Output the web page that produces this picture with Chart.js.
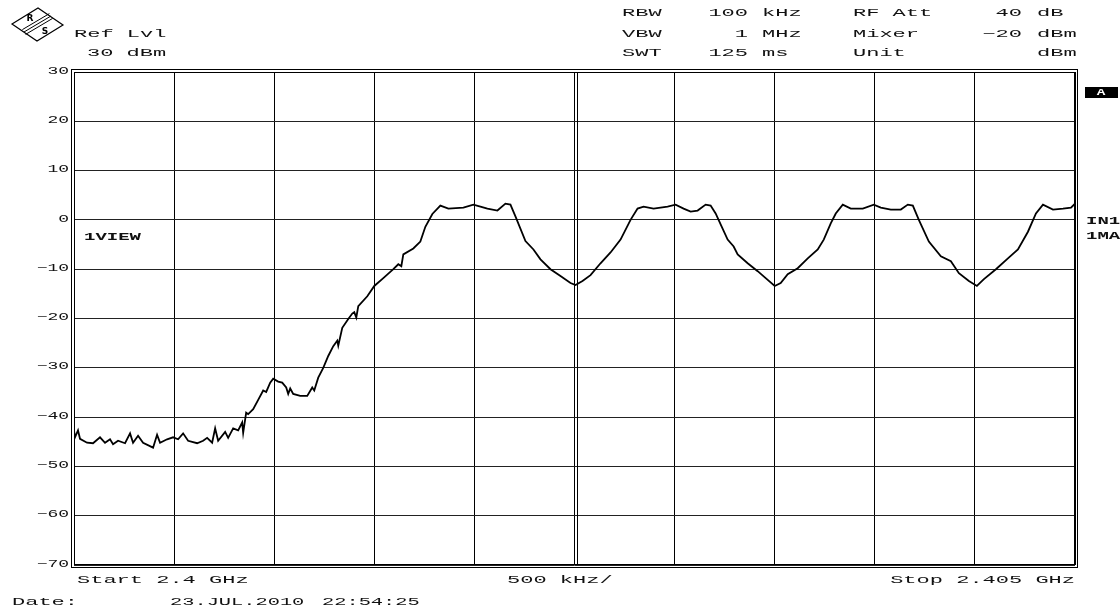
<!DOCTYPE html>
<html>
<head>
<meta charset="utf-8">
<script src="https://cdn.jsdelivr.net/npm/chart.js@4"></script>
<style>
  html, body { margin: 0; padding: 0; background: #fff; }
  #wrap { width: 1120px; height: 614px; position: relative; }
</style>
</head>
<body>
<div id="wrap"><canvas id="spectrum"></canvas></div>
<script>
// Trace: frequency offset from 2.4 GHz (kHz) and level (dBm)
const freqKHz = [
  0, 5, 20, 30, 65, 95, 130, 155, 180, 195, 220, 255, 280, 295, 320, 345, 395, 415, 430, 465,
  495, 520, 545, 570, 615, 645, 665, 690, 705, 720, 755, 770, 795, 820, 840, 845, 860, 870, 895, 920,
  945, 960, 980, 995, 1020, 1040, 1060, 1070, 1080, 1095, 1130, 1165, 1190, 1200, 1220, 1245, 1270, 1295, 1315, 1320,
  1340, 1370, 1390, 1400, 1410, 1420, 1465, 1500, 1545, 1595, 1620, 1635, 1645, 1695, 1730, 1755, 1790, 1830, 1870, 1945,
  1995, 2030, 2065, 2115, 2155, 2180, 2205, 2255, 2295, 2330, 2380, 2430, 2480, 2505, 2540, 2580, 2630, 2680, 2730, 2780,
  2815, 2845, 2895, 2965, 3005, 3045, 3080, 3115, 3155, 3180, 3205, 3230, 3265, 3295, 3315, 3365, 3415, 3455, 3500, 3530,
  3565, 3615, 3665, 3715, 3745, 3780, 3805, 3840, 3880, 3940, 3995, 4030, 4080, 4130, 4165, 4190, 4220, 4270, 4330, 4380,
  4420, 4470, 4510, 4545, 4605, 4665, 4715, 4765, 4805, 4840, 4890, 4940, 4980, 5000
];
const levelDbm = [
  -42.7, -44.1, -42.7, -44.4, -45.2, -45.3, -44.1, -45.2, -44.5, -45.5, -44.8, -45.3, -43.3, -45.2, -43.8, -45.2, -46.2, -43.6, -45.2, -44.5,
  -44.1, -44.5, -43.3, -44.8, -45.3, -44.8, -44.2, -45.2, -42.3, -44.8, -43.0, -44.2, -42.3, -42.7, -41.1, -43.2, -39.1, -39.4, -38.4, -36.5,
  -34.6, -34.9, -33.0, -32.2, -32.8, -33.0, -34.0, -35.3, -34.2, -35.3, -35.7, -35.7, -34.0, -34.6, -32.0, -30.0, -27.6, -25.6, -24.5, -25.5,
  -21.9, -20.1, -19.0, -18.7, -19.8, -17.5, -15.5, -13.4, -11.8, -10.0, -9.0, -9.4, -7.0, -5.8, -4.4, -1.4, 1.2, 2.9, 2.3, 2.5,
  3.1, 2.7, 2.3, 1.9, 3.3, 3.1, 0.7, -4.3, -6.0, -8.0, -10.0, -11.4, -12.8, -13.2, -12.4, -11.2, -8.8, -6.6, -4.0, 0.0,
  2.3, 2.7, 2.3, 2.7, 3.1, 2.3, 1.7, 1.9, 3.1, 2.9, 1.3, -0.9, -4.0, -5.4, -7.0, -8.8, -10.4, -11.8, -13.4, -12.8,
  -11.0, -9.8, -7.8, -6.0, -4.0, -0.7, 1.3, 3.1, 2.3, 2.3, 3.1, 2.5, 2.1, 2.1, 3.1, 2.9, 0.0, -4.4, -7.4, -8.4,
  -10.8, -12.4, -13.4, -12.0, -10.0, -7.8, -6.0, -2.4, 1.3, 3.1, 2.1, 2.3, 2.5, 3.3
];

const spanKHz = [0, 5000];
const levelRange = [-70, 30];
const headerRows = [
  ["RBW", "100", "kHz", "RF Att", "40", "dB"],
  ["VBW", "1", "MHz", "Mixer", "\u221220", "dBm"],
  ["SWT", "125", "ms", "Unit", "", "dBm"]
];

const FONT = "'Liberation Mono', 'DejaVu Sans Mono', monospace";
const INK = "#111";

// wide "analyzer" lettering: a mono font stretched horizontally
function wideText(ctx, str, x, y, opt = {}) {
  ctx.save();
  ctx.translate(x, y);
  ctx.scale(opt.sx || 2.0, 1);
  ctx.font = (opt.bold ? "bold " : "") + (opt.size || 11) + "px " + FONT;
  ctx.fillStyle = opt.color || INK;
  ctx.textAlign = opt.align || "left";
  ctx.textBaseline = "middle";
  ctx.fillText(str, 0, 0);
  ctx.restore();
}

const screenDecor = {
  id: "screenDecor",
  afterDraw(chart) {
    const ctx = chart.ctx;
    const { left, right, top, bottom } = chart.chartArea;
    const xs = chart.scales.x, ys = chart.scales.y;

    // double frame and double centre line
    ctx.save();
    ctx.strokeStyle = "#000";
    ctx.lineWidth = 1;
    ctx.strokeRect(left - 2.5, top - 2.5, right - left + 5, bottom - top + 5);
    ctx.strokeRect(left + 0.5, top + 0.5, right - left - 1, bottom - top - 1);
    const cx = Math.round(xs.getPixelForValue(2500)) + 2.5;
    ctx.beginPath();
    ctx.moveTo(cx, top);
    ctx.lineTo(cx, bottom);
    ctx.stroke();
    ctx.restore();

    // level labels from the y scale ticks
    ys.ticks.forEach(t => {
      const lbl = t.value < 0 ? "\u2212" + Math.abs(t.value) : String(t.value);
      wideText(ctx, lbl, left - 5, ys.getPixelForValue(t.value) - 1, { align: "right", size: 10, sx: 1.8 });
    });

    // R&S logo
    ctx.save();
    ctx.strokeStyle = "#000";
    ctx.lineWidth = 1.2;
    ctx.beginPath();
    ctx.moveTo(12, 24); ctx.lineTo(38, 8); ctx.lineTo(63, 25); ctx.lineTo(37, 41); ctx.closePath();
    ctx.stroke();
    ctx.lineWidth = 1;
    for (let k = -1; k <= 1; k++) {
      ctx.beginPath();
      ctx.moveTo(24 + k * 1.6, 32 + k * 2.4);
      ctx.lineTo(51 + k * 1.6, 16 + k * 2.4);
      ctx.stroke();
    }
    ctx.fillStyle = "#000";
    ctx.font = "bold 9px 'DejaVu Sans', sans-serif";
    ctx.textAlign = "center";
    ctx.textBaseline = "middle";
    ctx.fillText("R", 30, 19);
    ctx.fillText("S", 45, 32);
    ctx.restore();

    // header
    wideText(ctx, "Ref Lvl", 74, 34);
    wideText(ctx, "30 dBm", 87, 53);
    const rowY = [13, 34, 53];
    headerRows.forEach((r, i) => {
      const y = rowY[i];
      wideText(ctx, r[0], 622, y);
      wideText(ctx, r[1], 748, y, { align: "right" });
      wideText(ctx, r[2], 762, y);
      wideText(ctx, r[3], 853, y);
      wideText(ctx, r[4], 1022, y, { align: "right" });
      wideText(ctx, r[5], 1037, y);
    });

    // side annotations
    wideText(ctx, "1VIEW", 84, 237, { bold: true, size: 10, sx: 1.9 });
    ctx.fillStyle = "#000";
    ctx.fillRect(1085, 87, 33, 11);
    wideText(ctx, "A", 1101, 92.5, { bold: true, size: 9, sx: 1.6, color: "#fff", align: "center" });
    wideText(ctx, "IN1", 1086, 221, { bold: true, size: 10, sx: 1.9 });
    wideText(ctx, "1MA", 1086, 236, { bold: true, size: 10, sx: 1.9 });

    // footer
    wideText(ctx, "Start 2.4 GHz", 77, 580);
    wideText(ctx, "500 kHz/", 507, 580);
    wideText(ctx, "Stop 2.405 GHz", 1075, 580, { align: "right" });
    wideText(ctx, "Date:", 12, 602);
    wideText(ctx, "23.JUL.2010", 170, 602, { sx: 1.85 });
    wideText(ctx, "22:54:25", 322, 602, { sx: 1.85 });
  }
};

const traceCtx = document.getElementById("spectrum");
new Chart(traceCtx, {
  type: "line",
  data: {
    datasets: [{
      data: freqKHz.map((f, i) => ({ x: f, y: levelDbm[i] })),
      borderColor: "#000",
      borderWidth: 1.8,
      pointRadius: 0,
      tension: 0,
      fill: false
    }]
  },
  options: {
    responsive: true,
    maintainAspectRatio: false,
    animation: false,
    events: [],
    layout: { padding: { left: 74, top: 72, right: 45, bottom: 49 } },
    scales: {
      x: {
        type: "linear",
        min: spanKHz[0],
        max: spanKHz[1],
        ticks: { display: false, stepSize: 500 },
        grid: { color: "#000", lineWidth: 1, drawTicks: false },
        border: { display: false }
      },
      y: {
        min: levelRange[0],
        max: levelRange[1],
        ticks: { display: false, stepSize: 10 },
        grid: { color: "#222", lineWidth: 1, drawTicks: false },
        border: { display: false }
      }
    },
    plugins: {
      legend: { display: false },
      tooltip: { enabled: false }
    }
  },
  plugins: [screenDecor]
});
</script>
</body>
</html>
